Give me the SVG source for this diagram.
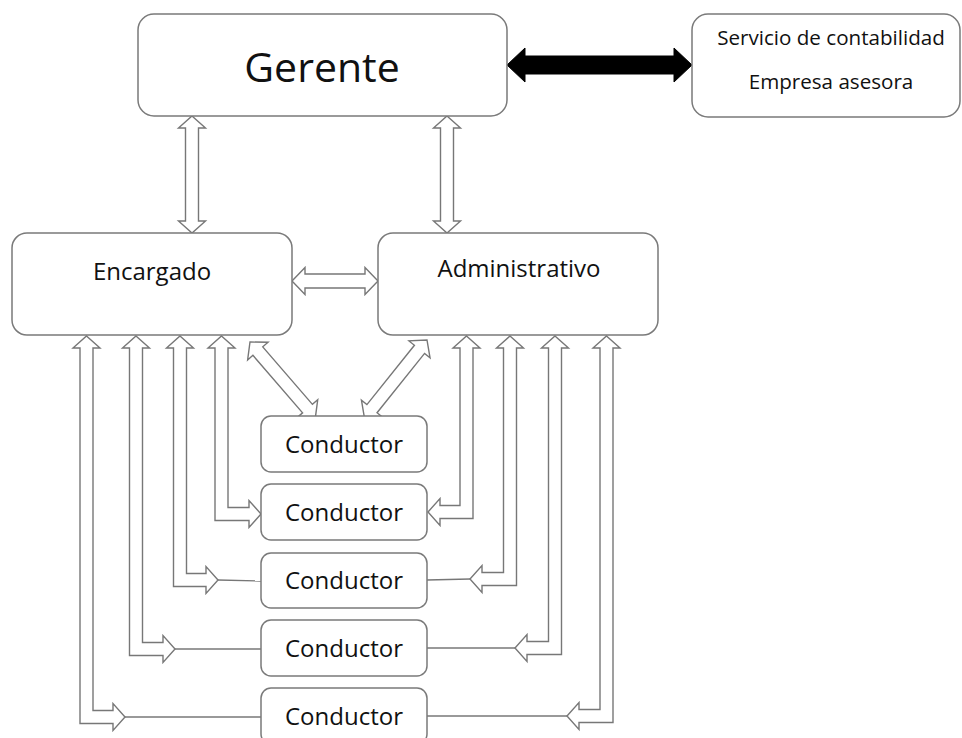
<svg xmlns="http://www.w3.org/2000/svg" width="962" height="738" viewBox="0 0 962 738">
<style>
.box{fill:#fff;stroke:#7a7a7a;stroke-width:1.5}
.arr{fill:#fff;stroke:#777;stroke-width:1.4;stroke-linejoin:miter}
.blk{fill:#000;stroke:#000;stroke-width:1}
.ln{stroke:#777;stroke-width:1.4;fill:none}
text{font-family:"Open Sans","Noto Sans","Liberation Sans",sans-serif;fill:#111;text-anchor:middle}
.big{font-size:41px}
.mid{font-size:24px}
.sm{font-size:20.6px}
</style>
<rect width="962" height="738" fill="#fff"/>
<g id="connectors">
  <polygon class="blk" points="507,65 525,48 525,56 674,56 674,48 692,65 674,82 674,74 525,74 525,82"/>
  <polygon class="arr" transform="translate(192,116) rotate(90)" points="0,0 12,-13.5 12,-6.5 105,-6.5 105,-13.5 117,0 105,13.5 105,6.5 12,6.5 12,13.5"/>
  <polygon class="arr" transform="translate(447,116) rotate(90)" points="0,0 12,-13.5 12,-6.5 105,-6.5 105,-13.5 117,0 105,13.5 105,6.5 12,6.5 12,13.5"/>
  <polygon class="arr" transform="translate(292,281)" points="0,0 13,-13.5 13,-7 73,-7 73,-13.5 86,0 73,13.5 73,7 13,7 13,13.5"/>
  <polygon class="arr" transform="translate(250,342) rotate(49.2)" points="0,0 12,-13.5 12,-6.5 88,-6.5 88,-13.5 100,0 88,13.5 88,6.5 12,6.5 12,13.5"/>
  <polygon class="arr" transform="translate(427,340) rotate(128.7)" points="0,0 12,-13.5 12,-6.5 88,-6.5 88,-13.5 100,0 88,13.5 88,6.5 12,6.5 12,13.5"/>
  <polygon class="arr" points="221.5,336 235,348 228,348 228,507.5 249,507.5 249,500.5 261,514 249,527.5 249,520.5 215,520.5 215,348 208,348"/>
  <polygon class="arr" points="180,336 193.5,348 186.5,348 186.5,573.5 206,573.5 206,566.5 218,580 206,593.5 206,586.5 173.5,586.5 173.5,348 166.5,348"/>
  <line class="ln" x1="218" y1="580" x2="261" y2="581"/>
  <polygon class="arr" points="136,336 149.5,348 142.5,348 142.5,642.5 163,642.5 163,635.5 175,649 163,662.5 163,655.5 129.5,655.5 129.5,348 122.5,348"/>
  <line class="ln" x1="175" y1="649" x2="261" y2="649"/>
  <polygon class="arr" points="86.5,336 100,348 93,348 93,710.5 113,710.5 113,703.5 125,717 113,730.5 113,723.5 80,723.5 80,348 73,348"/>
  <line class="ln" x1="125" y1="717" x2="261" y2="717"/>
  <polygon class="arr" points="466.5,336 480,348 473,348 473,518.5 440,518.5 440,525.5 428,512 440,498.5 440,505.5 460,505.5 460,348 453,348"/>
  <polygon class="arr" points="510,336 523.5,348 516.5,348 516.5,585.5 482,585.5 482,592.5 470,579 482,565.5 482,572.5 503.5,572.5 503.5,348 496.5,348"/>
  <line class="ln" x1="427" y1="580" x2="470" y2="579"/>
  <polygon class="arr" points="555,336 568.5,348 561.5,348 561.5,654.5 527,654.5 527,661.5 515,648 527,634.5 527,641.5 548.5,641.5 548.5,348 541.5,348"/>
  <line class="ln" x1="427" y1="648" x2="515" y2="648"/>
  <polygon class="arr" points="606.5,336 620,348 613,348 613,722.5 579,722.5 579,729.5 567,716 579,702.5 579,709.5 600,709.5 600,348 593,348"/>
  <line class="ln" x1="427" y1="716" x2="567" y2="716"/>
</g>
<g id="gerente">
  <rect class="box" x="138" y="14" width="369" height="102" rx="16"/>
  <text class="big" x="322" y="82">Gerente</text>
</g>
<g id="servicio">
  <rect class="box" x="692" y="14" width="268" height="103" rx="16"/>
  <text class="sm" x="831" y="45">Servicio de contabilidad</text>
  <text class="sm" x="831" y="89">Empresa asesora</text>
</g>
<g id="encargado">
  <rect class="box" x="12" y="233" width="280" height="102" rx="15"/>
  <text class="mid" x="152" y="280">Encargado</text>
</g>
<g id="administrativo">
  <rect class="box" x="378" y="233" width="280" height="102" rx="15"/>
  <text class="mid" x="519" y="277">Administrativo</text>
</g>
<g id="conductor1">
  <rect class="box" x="261" y="416" width="166" height="56" rx="10"/>
  <text class="mid" x="344" y="453">Conductor</text>
</g>
<g id="conductor2">
  <rect class="box" x="261" y="484" width="166" height="56" rx="10"/>
  <text class="mid" x="344" y="521">Conductor</text>
</g>
<g id="conductor3">
  <rect class="box" x="261" y="553" width="166" height="55" rx="10"/>
  <text class="mid" x="344" y="589">Conductor</text>
</g>
<g id="conductor4">
  <rect class="box" x="261" y="620" width="166" height="56" rx="10"/>
  <text class="mid" x="344" y="657">Conductor</text>
</g>
<g id="conductor5">
  <rect class="box" x="261" y="688" width="166" height="56" rx="10"/>
  <text class="mid" x="344" y="725">Conductor</text>
</g>
</svg>
